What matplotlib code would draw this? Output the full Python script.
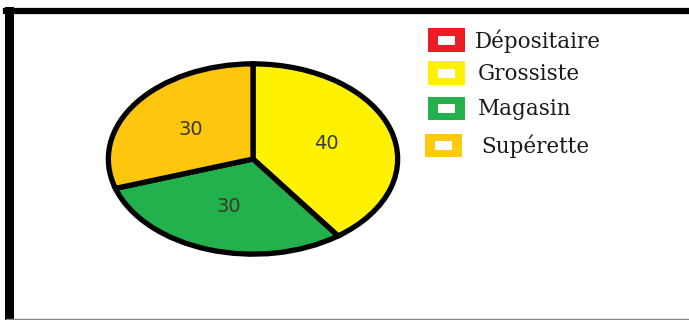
import matplotlib.pyplot as plt
from matplotlib.patches import Rectangle
from matplotlib.lines import Line2D

# data
categories = ['Dépositaire', 'Grossiste', 'Magasin', 'Supérette']
values = [0, 40, 30, 30]
edge_colors = ['#ED1C24', '#FFF200', '#22B14C', '#FFC90E']
fill_colors = ['#ED1C24', '#FFF200', '#22B14C', '#FFC60E']

W, H = 689, 320
fig = plt.figure(figsize=(W / 100, H / 100), dpi=100)
fig.patch.set_facecolor('white')

def fx(px):
    return px / W

def fy(py):
    return 1 - py / H

# frame (thick left / top edges, thin bottom)
fig.add_artist(Line2D([fx(9), fx(9)], [fy(11), fy(319)], color='black', lw=6.5))
fig.add_artist(Line2D([fx(6), fx(W)], [fy(11), fy(11)], color='black', lw=4.5))
fig.add_artist(Line2D([fx(6), fx(W)], [fy(318.5), fy(318.5)], color='#888888', lw=1.0))

# pie, drawn as an ellipse by letting the axes aspect float
ax = fig.add_axes([fx(104), fy(257), fx(402) - fx(104), (257 - 61) / H])
wedges, texts, autotexts = ax.pie(
    values, colors=fill_colors, startangle=90, counterclock=False,
    autopct=lambda p: f'{p:.0f}' if p > 0 else '', pctdistance=0.53,
    wedgeprops=dict(edgecolor='black', linewidth=3.8),
    textprops=dict(fontsize=14, color='#3a3a2a', family='DejaVu Sans'))
ax.set_aspect('auto')
ax.set_xlim(-1.03, 1.03)
ax.set_ylim(-1.03, 1.03)
ax.axis('off')

# legend: hollow squares with the category colour as outline
rows = [40, 73, 108, 145]
box_x = [428, 428, 428, 425]
text_x = [475, 478, 478, 481]
bw, bh = 37, 23
for cat, col, yc, bx, tx in zip(categories, edge_colors, rows, box_x, text_x):
    fig.add_artist(Rectangle((fx(bx), fy(yc + bh / 2)), bw / W, bh / H,
                             transform=fig.transFigure, facecolor=col,
                             edgecolor='none'))
    fig.add_artist(Rectangle((fx(bx + 10), fy(yc + 4.5)), (bw - 20) / W, 9 / H,
                             transform=fig.transFigure, facecolor='white',
                             edgecolor='none'))
    fig.text(fx(tx), fy(yc + 1), cat, ha='left', va='center',
             fontsize=15.5, family='DejaVu Serif', color='#1a1a1a')

fig.savefig('out.png', dpi=100)
